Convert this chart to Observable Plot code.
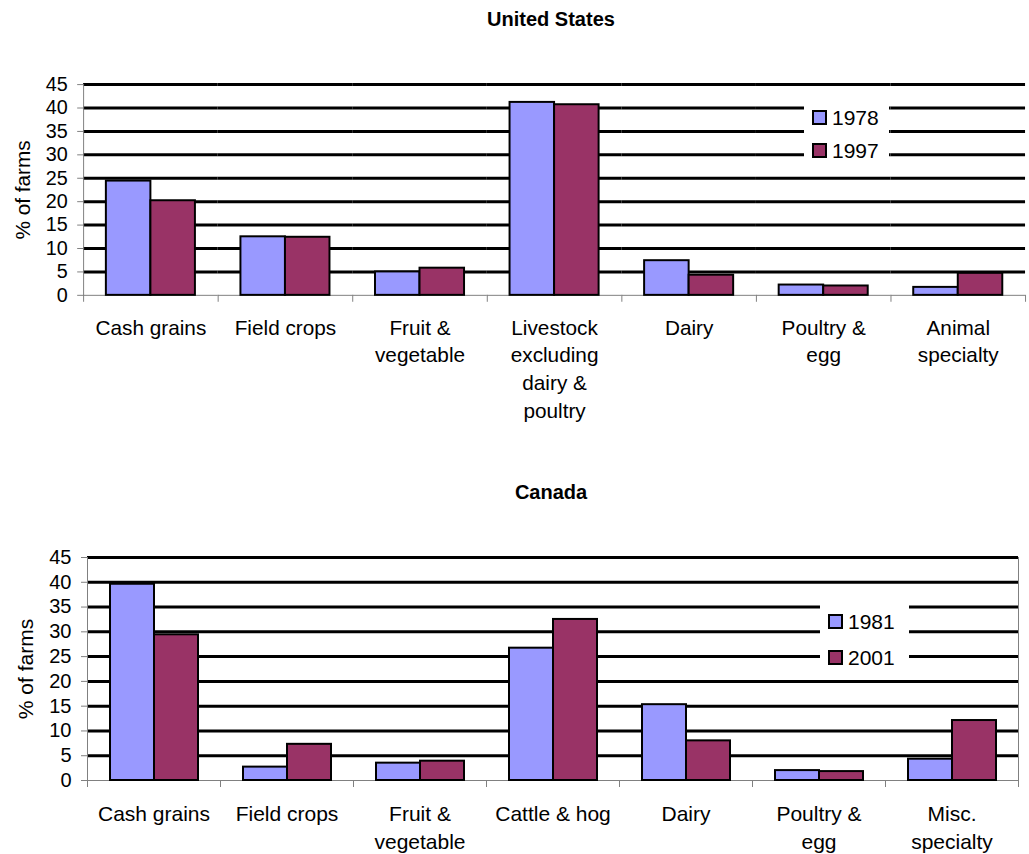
<!DOCTYPE html>
<html>
<head>
<meta charset="utf-8">
<script src="https://cdn.jsdelivr.net/npm/d3@7"></script>
<script src="https://cdn.jsdelivr.net/npm/@observablehq/plot@0.6"></script>
<style>
  html, body { margin: 0; padding: 0; background: #fff; }
  body { font-family: "Liberation Sans", Arial, sans-serif; color: #000; }
  #wrap { position: relative; width: 1029px; height: 854px; overflow: hidden; }
  .chart { position: absolute; left: 0; }
  .title { position: absolute; transform: translate(-50%, -50%); font-weight: bold; font-size: 20px; white-space: nowrap; }
  .legend { position: absolute; background: #fff; }
  .legend .sw { position: absolute; width: 11px; height: 11px; border: 2px solid #000; }
  .legend .lb { position: absolute; font-size: 21px; line-height: 21px; }
</style>
</head>
<body>
<div id="wrap"></div>
<script>
// ---------- data ----------
const usTitle = "United States";
const usYears = ["1978", "1997"];
const usCategories = ["Cash grains", "Field crops", "Fruit &\nvegetable", "Livestock\nexcluding\ndairy &\npoultry", "Dairy", "Poultry &\negg", "Animal\nspecialty"];
const us1978 = [24.4, 12.5, 5.0, 41.2, 7.4, 2.2, 1.7];
const us1997 = [20.2, 12.4, 5.8, 40.7, 4.3, 2.0, 4.7];

const caTitle = "Canada";
const caYears = ["1981", "2001"];
const caCategories = ["Cash grains", "Field crops", "Fruit &\nvegetable", "Cattle & hog", "Dairy", "Poultry &\negg", "Misc.\nspecialty"];
const ca1981 = [39.6, 2.7, 3.5, 26.7, 15.3, 2.0, 4.3];
const ca2001 = [29.4, 7.3, 3.9, 32.5, 8.0, 1.8, 12.1];

const yTicks = [0, 5, 10, 15, 20, 25, 30, 35, 40, 45];
const yLabel = "% of farms";
const seriesColors = ["#9999FF", "#993366"];

// ---------- rendering ----------
const FONT = '"Liberation Sans", Arial, sans-serif';
const wrap = document.getElementById("wrap");

function makeRows(categories, years, a, b) {
  return categories.flatMap((c, i) => [
    {category: c, year: years[0], value: a[i]},
    {category: c, year: years[1], value: b[i]}
  ]);
}

function makeChart(cfg) {
  const data = makeRows(cfg.categories, cfg.years, cfg.a, cfg.b);
  const plotH = cfg.height - cfg.marginTop - cfg.marginBottom;
  const marks = [];
  if (cfg.border) {
    marks.push(Plot.frame({anchor: "top", stroke: "#808080"}));
    marks.push(Plot.frame({anchor: "right", stroke: "#808080", facetAnchor: "right"}));
  }
  marks.push(
    Plot.ruleY(yTicks.filter(t => t > 0), {stroke: "black", strokeWidth: 3}),
    Plot.ruleY([yTicks[0]], {stroke: "#808080", strokeWidth: 1}),
    Plot.frame({anchor: "left", stroke: "#808080", insetTop: plotH, insetBottom: -6}),
    Plot.frame({anchor: "right", stroke: "#808080", insetTop: plotH, insetBottom: -6, facetAnchor: "right"}),
    Plot.frame({anchor: "left", stroke: "#808080", facetAnchor: "left"}),
    Plot.barY(data, {fx: "category", x: "year", y: "value", fill: "year", stroke: "black", strokeWidth: 2}),
    Plot.axisY({ticks: yTicks, tickSize: 6, tickPadding: 10, stroke: "#808080", fill: "black", fontSize: 20, label: null}),
    Plot.axisFx({anchor: "bottom", tickSize: 0, tickPadding: cfg.labelPad, fontSize: 21, lineHeight: 1.33, fill: "black", label: null}),
    Plot.text([yLabel], {text: d => d, frameAnchor: "left", textAnchor: "middle", rotate: -90, dx: -61, fontSize: 21, fill: "black", facetAnchor: "left"})
  );
  const svg = Plot.plot({
    width: cfg.width, height: cfg.height,
    marginLeft: cfg.marginLeft, marginRight: cfg.marginRight,
    marginTop: cfg.marginTop, marginBottom: cfg.marginBottom,
    style: {fontFamily: FONT, fontSize: "20px", color: "black", background: "transparent", overflow: "visible"},
    fx: {domain: cfg.categories, padding: 0},
    x: {domain: cfg.years, paddingInner: 0, paddingOuter: 0.51, axis: null},
    y: {domain: [0, 45]},
    color: {domain: cfg.years, range: seriesColors},
    marks
  });
  const holder = document.createElement("div");
  holder.className = "chart";
  holder.style.top = cfg.top + "px";
  holder.appendChild(svg);
  wrap.appendChild(holder);

  const t = document.createElement("div");
  t.className = "title";
  t.textContent = cfg.title;
  t.style.left = cfg.titleX + "px";
  t.style.top = cfg.titleY + "px";
  wrap.appendChild(t);

  const lg = document.createElement("div");
  lg.className = "legend";
  Object.assign(lg.style, {left: cfg.legend.left + "px", top: cfg.legend.top + "px", width: cfg.legend.w + "px", height: cfg.legend.h + "px"});
  cfg.years.forEach((yr, i) => {
    const cy = cfg.legend.rows[i] - cfg.legend.top;
    const sw = document.createElement("div");
    sw.className = "sw";
    sw.style.background = seriesColors[i];
    sw.style.left = (cfg.legend.swX - cfg.legend.left) + "px";
    sw.style.top = (cy - 7) + "px";
    lg.appendChild(sw);
    const lb = document.createElement("div");
    lb.className = "lb";
    lb.textContent = yr;
    lb.style.left = (cfg.legend.textX - cfg.legend.left) + "px";
    lb.style.top = (cy - 10) + "px";
    lg.appendChild(lb);
  });
  wrap.appendChild(lg);
}

makeChart({
  title: usTitle, titleX: 551, titleY: 19,
  categories: usCategories, years: usYears, a: us1978, b: us1997,
  top: 0, width: 1040, height: 440, marginLeft: 83, marginRight: 3, marginTop: 85, marginBottom: 142,
  labelPad: 20, border: false,
  legend: {left: 804, top: 103, w: 85, h: 58, rows: [117, 150], swX: 812, textX: 832}
});

makeChart({
  title: caTitle, titleX: 551, titleY: 492,
  categories: caCategories, years: caYears, a: ca1981, b: ca2001,
  top: 470, width: 1029, height: 384, marginLeft: 87, marginRight: 11, marginTop: 87, marginBottom: 74,
  labelPad: 21, border: true,
  legend: {left: 820, top: 605, w: 89, h: 64, rows: [621, 657], swX: 828, textX: 848}
});
</script>
</body>
</html>
